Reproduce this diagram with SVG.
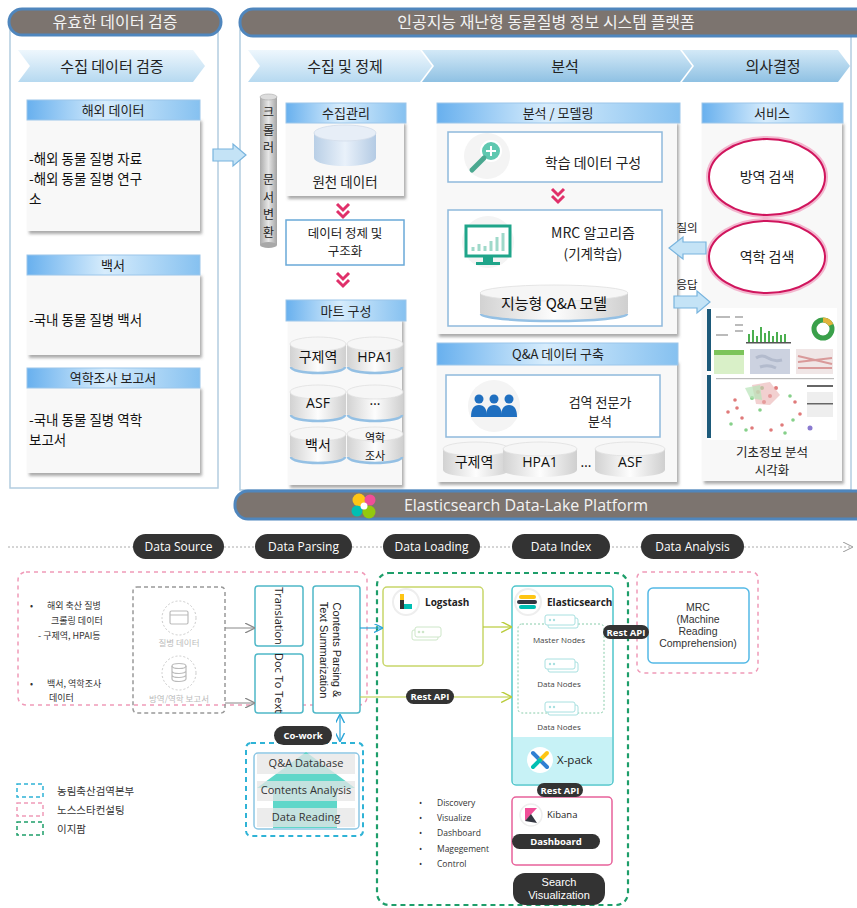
<svg xmlns="http://www.w3.org/2000/svg" width="857" height="908" viewBox="0 0 857 908">
<defs>
<style>
.kr{font-family:"Noto Sans CJK KR","Noto Sans",sans-serif;}
.en{font-family:"Open Sans","Noto Sans","Liberation Sans",sans-serif;}
.lib{font-family:"Liberation Sans",Arial,sans-serif;}
.pill{fill:#7c746f;stroke:#4f86bd;stroke-width:3;}
.pillt{fill:#f3f3f3;font-size:16px;text-anchor:middle;}
.panel{fill:#fff;stroke:#b3cde0;stroke-width:1.5;}
.chev{fill:url(#gChev);}
.chev2{fill:url(#gChev2);}
.chevt{fill:#222;font-size:15px;text-anchor:middle;}
.chd{fill:url(#gHdr);stroke:#9cc6ea;stroke-width:1;}
.chdt{fill:#222;font-size:13px;text-anchor:middle;}
.cbody{fill:#f8f8f8;filter:url(#sh);}
.ctxt{fill:#111;font-size:13.5px;}
.inbox{fill:#fff;stroke:#8fb9dc;stroke-width:1.5;}
.dchev{fill:none;stroke:#e0306a;stroke-width:3;}
.cylb{fill:url(#gCyl);}
.cylt{fill:#f6f6f6;stroke:#e0e0e0;stroke-width:0.8;}
.cylr{fill:none;stroke:#94c0e4;stroke-width:2.5;}
.cyll{fill:#111;font-size:14px;text-anchor:middle;}
.cyls{fill:#111;font-size:11px;text-anchor:middle;}
.bluearr{fill:#c4e3f6;stroke:#78b4de;stroke-width:1.2;}
.ell{fill:#fff;stroke:#d0155d;stroke-width:2;}
.ellg{fill:none;stroke:#f3b7cf;stroke-width:6;}
.stage{fill:#333;}
.staget{fill:#fff;font-size:12px;text-anchor:middle;}
.dpink{fill:none;stroke:#f09ab8;stroke-width:1.5;stroke-dasharray:4 4;}
.dblue{fill:none;stroke:#2fb3d6;stroke-width:2;stroke-dasharray:5 4;}
.dgreen{fill:none;stroke:#1e9e6a;stroke-width:2.2;stroke-dasharray:5 4;}
.tbox{fill:#fff;stroke:#4fb8c8;stroke-width:1.5;}
.tag{fill:#333;}
.tagt{fill:#fff;font-size:9.5px;font-weight:bold;text-anchor:middle;}
.small{fill:#333;font-size:9px;}
.tiny{fill:#444;font-size:8px;text-anchor:middle;}
.srct{fill:#bbb;font-size:8.5px;text-anchor:middle;}
</style>
<filter id="sh" x="-10%" y="-10%" width="125%" height="125%">
<feDropShadow dx="2" dy="3" stdDeviation="1.6" flood-color="#666" flood-opacity="0.55"/>
</filter>
<linearGradient id="gHdr" x1="0" y1="0" x2="1" y2="0">
<stop offset="0" stop-color="#68b0ee"/><stop offset="0.45" stop-color="#d6ecfc"/><stop offset="1" stop-color="#86c1f0"/>
</linearGradient>
<linearGradient id="gChev" x1="0" y1="0" x2="0" y2="1">
<stop offset="0" stop-color="#eef7fd"/><stop offset="1" stop-color="#b6d9f0"/>
</linearGradient>
<linearGradient id="gChev2" x1="0" y1="0" x2="0" y2="1">
<stop offset="0" stop-color="#d3e9f7"/><stop offset="1" stop-color="#8fc1e3"/>
</linearGradient>
<linearGradient id="gCyl" x1="0" y1="0" x2="1" y2="0">
<stop offset="0" stop-color="#d2d2d2"/><stop offset="0.5" stop-color="#fdfdfd"/><stop offset="1" stop-color="#cfcfcf"/>
</linearGradient>
<linearGradient id="gCylBlue" x1="0" y1="0" x2="1" y2="0">
<stop offset="0" stop-color="#b9cfe6"/><stop offset="0.5" stop-color="#e9f1fa"/><stop offset="1" stop-color="#b4cbe4"/>
</linearGradient>
<linearGradient id="gVcyl" x1="0" y1="0" x2="1" y2="0">
<stop offset="0" stop-color="#aaa"/><stop offset="0.5" stop-color="#e6e6e6"/><stop offset="1" stop-color="#a4a4a4"/>
</linearGradient>
<marker id="aGrey" viewBox="0 0 10 10" refX="9" refY="5" markerWidth="10" markerHeight="10" markerUnits="userSpaceOnUse" orient="auto">
<path d="M0,0 L10,5 L0,10" fill="none" stroke="#888" stroke-width="1.3"/>
</marker>
<marker id="aYel" viewBox="0 0 10 10" refX="9" refY="5" markerWidth="11" markerHeight="11" markerUnits="userSpaceOnUse" orient="auto">
<path d="M0,0 L10,5 L0,10" fill="none" stroke="#b9cc3a" stroke-width="1.3"/>
</marker>
<marker id="aBlue" viewBox="0 0 10 10" refX="9" refY="5" markerWidth="9" markerHeight="9" markerUnits="userSpaceOnUse" orient="auto-start-reverse">
<path d="M0,0 L10,5 L0,10" fill="none" stroke="#2aa5d8" stroke-width="1.5"/>
</marker>
<marker id="aLine" viewBox="0 0 10 10" refX="9" refY="5" markerWidth="10" markerHeight="10" markerUnits="userSpaceOnUse" orient="auto">
<path d="M0,0 L10,5 L0,10" fill="none" stroke="#999" stroke-width="1"/>
</marker>
<g id="cyl-small">
<path class="cylb" d="M0,8 L0,30 A28,7 0 0 0 56,30 L56,8 Z"/>
<path class="cylr" d="M1,31 A27,6 0 0 0 55,31"/>
<ellipse class="cylt" cx="28" cy="8" rx="28" ry="7"/>
</g>
<g id="srv">
<rect x="-13" y="-6" width="26" height="10" rx="2" fill="#fff" stroke="#cde6c8" stroke-width="1"/>
<rect x="-10" y="-9" width="26" height="10" rx="2" fill="#fff" stroke="#cde6c8" stroke-width="1"/>
<circle cx="-6" cy="-4" r="1.3" fill="#cde6c8"/><circle cx="-2" cy="-4" r="1.3" fill="#cde6c8"/>
</g>
<g id="node">
<rect x="-14" y="-4" width="30" height="10" rx="2" fill="#fff" stroke="#a8e0e0" stroke-width="1"/>
<rect x="-17" y="-7" width="30" height="10" rx="2" fill="#fff" stroke="#a8e0e0" stroke-width="1"/>
<circle cx="-12" cy="-2" r="1.2" fill="#a8e0e0"/><circle cx="-8" cy="-2" r="1.2" fill="#a8e0e0"/>
</g>
</defs>

<rect width="857" height="908" fill="#fff"/>

<!-- ===== Left: data validation ===== -->
<g id="validation">
<rect class="panel" x="10" y="30" width="208" height="458"/>
<rect class="pill" x="9" y="9" width="212" height="26" rx="13"/>
<text class="kr pillt" x="115" y="28">유효한 데이터 검증</text>
<polygon class="chev" points="18,50 193,50 205,66 193,82 18,82 30,66"/>
<text class="kr chevt" x="112" y="72">수집 데이터 검증</text>
</g>

<g id="card-overseas">
<rect class="cbody" x="27" y="118" width="173" height="113"/>
<rect class="chd" x="27" y="100" width="173" height="20"/>
<text class="kr chdt" x="113" y="115">해외 데이터</text>
<text class="kr ctxt" x="29" y="164">-해외 동물 질병 자료</text>
<text class="kr ctxt" x="29" y="184">-해외 동물 질병 연구</text>
<text class="kr ctxt" x="29" y="204">소</text>
</g>

<g id="card-whitepaper">
<rect class="cbody" x="27" y="273" width="173" height="82"/>
<rect class="chd" x="27" y="255" width="173" height="20"/>
<text class="kr chdt" x="113" y="270">백서</text>
<text class="kr ctxt" x="29" y="325">-국내 동물 질병 백서</text>
</g>

<g id="card-epi">
<rect class="cbody" x="27" y="386" width="173" height="87"/>
<rect class="chd" x="27" y="368" width="173" height="20"/>
<text class="kr chdt" x="113" y="383">역학조사 보고서</text>
<text class="kr ctxt" x="29" y="425">-국내 동물 질병 역학</text>
<text class="kr ctxt" x="29" y="445">보고서</text>
</g>

<!-- ===== Right: AI platform ===== -->
<g id="platform">
<rect class="panel" x="240" y="30" width="611" height="460"/>
<rect class="pill" x="240" y="9" width="630" height="27" rx="13"/>
<text class="kr pillt" x="546" y="28">인공지능 재난형 동물질병 정보 시스템 플랫폼</text>
<polygon class="chev" points="248,50 420,50 432,66 420,82 248,82 260,66"/>
<text class="kr chevt" x="345" y="72">수집 및 정제</text>
<polygon class="chev2" points="422,50 680,50 692,66 680,82 422,82 434,66"/>
<text class="kr chevt" x="565" y="72">분석</text>
<polygon class="chev2" points="682,50 838,50 850,66 838,82 682,82 694,66"/>
<text class="kr chevt" x="773" y="72">의사결정</text>
</g>

<g id="crawler">
<rect x="260" y="97" width="17" height="148" fill="url(#gVcyl)"/>
<ellipse cx="268.5" cy="97" rx="8.5" ry="3" fill="#ddd" stroke="#aaa" stroke-width="0.6"/>
<ellipse cx="268.5" cy="245" rx="8.5" ry="3" fill="#a8a8a8"/>
<g class="kr" font-size="12" fill="#222" text-anchor="middle">
<text x="268.5" y="117">크</text><text x="268.5" y="134.5">롤</text><text x="268.5" y="152">러</text>
<text x="268.5" y="184">문</text><text x="268.5" y="201.5">서</text><text x="268.5" y="219">변</text><text x="268.5" y="236.5">환</text>
</g>
</g>

<g id="collect-mgmt">
<rect class="cbody" x="286" y="121" width="118" height="75"/>
<rect class="chd" x="286" y="103" width="120" height="20"/>
<text class="kr chdt" x="346" y="118">수집관리</text>
<path d="M314,133 L314,158 A31,8 0 0 0 376,158 L376,133 Z" fill="url(#gCylBlue)"/>
<ellipse cx="345" cy="133" rx="31" ry="8" fill="#e7eef7" stroke="#d2dcea" stroke-width="0.8"/>
<text class="kr" x="345" y="187" font-size="13.5" fill="#222" text-anchor="middle">원천 데이터</text>
</g>

<path class="dchev" d="M337,204 L343,210 L349,204 M337,211 L343,217 L349,211"/>

<g id="refine">
<rect x="286" y="220" width="118" height="45" fill="#fff" stroke="#6aa9d8" stroke-width="1.5"/>
<text class="kr" x="345" y="238" font-size="12.5" fill="#222" text-anchor="middle">데이터 정제 및</text>
<text class="kr" x="345" y="256" font-size="12.5" fill="#222" text-anchor="middle">구조화</text>
</g>

<path class="dchev" d="M337,273 L343,279 L349,273 M337,280 L343,286 L349,280"/>

<g id="mart">
<rect class="cbody" x="288" y="318" width="114" height="167"/>
<rect class="chd" x="286" y="300" width="120" height="21"/>
<text class="kr chdt" x="346" y="316">마트 구성</text>
<use href="#cyl-small" x="290" y="336"/><use href="#cyl-small" x="347" y="336"/>
<use href="#cyl-small" x="290" y="384"/><use href="#cyl-small" x="347" y="384"/>
<use href="#cyl-small" x="290" y="426"/><use href="#cyl-small" x="347" y="426"/>
<text class="kr cyll" x="318" y="362">구제역</text>
<text class="en cyll" x="375" y="362">HPA1</text>
<text class="en cyll" x="318" y="408">ASF</text>
<text class="en cyll" x="375" y="405">…</text>
<text class="kr cyll" x="318" y="450">백서</text>
<text class="kr cyls" x="375" y="442">역학</text>
<text class="kr cyls" x="375" y="460">조사</text>
</g>

<g id="modeling">
<rect class="cbody" x="437" y="121" width="240" height="213"/>
<rect class="chd" x="437" y="103" width="243" height="20"/>
<text class="kr chdt" x="558" y="118">분석 / 모델링</text>
<rect class="inbox" x="448" y="132" width="214" height="50"/>
<circle cx="487" cy="156" r="23" fill="#f4f4f4"/>
<circle cx="491" cy="151" r="10" fill="#5fc8b0" stroke="#fff" stroke-width="2"/>
<path d="M486,151 h10 M491,146 v10" stroke="#fff" stroke-width="2"/>
<path d="M484,158 L472,170" stroke="#4aa890" stroke-width="5" stroke-linecap="round"/>
<text class="kr" x="593" y="168" font-size="14" fill="#222" text-anchor="middle">학습 데이터 구성</text>
<path class="dchev" d="M552,189 L558,195 L564,189 M552,196 L558,202 L564,196"/>
<rect class="inbox" x="448" y="210" width="214" height="116"/>
<circle cx="488" cy="242" r="26" fill="#f4f4f4"/>
<rect x="466" y="226" width="44" height="30" fill="#fff" stroke="#1fa58a" stroke-width="3"/>
<path d="M473,251 v-4 M479,251 v-7 M485,251 v-5 M491,251 v-10 M497,251 v-14 M503,251 v-18" stroke="#9fd9ca" stroke-width="3"/>
<rect x="483" y="256" width="10" height="6" fill="#1fa58a"/>
<rect x="476" y="262" width="24" height="3" fill="#1fa58a"/>
<text class="kr" x="593" y="238" font-size="14" fill="#222" text-anchor="middle">MRC 알고리즘</text>
<text class="kr" x="593" y="259" font-size="13.5" fill="#222" text-anchor="middle">(기계학습)</text>
<path d="M480,293 L480,313 A74,8 0 0 0 628,313 L628,293 Z" fill="url(#gCyl)"/>
<path class="cylr" d="M481,314 A73,7 0 0 0 627,314"/>
<ellipse class="cylt" cx="554" cy="293" rx="74" ry="8"/>
<text class="kr" x="554" y="309" font-size="15" fill="#111" text-anchor="middle">지능형 Q&amp;A 모델</text>
</g>

<g id="qa-build">
<rect class="cbody" x="437" y="360" width="240" height="122"/>
<rect x="437" y="343" width="241" height="22" fill="url(#gHdr)" stroke="#9cc6ea"/>
<text class="kr chdt" x="558" y="359">Q&amp;A 데이터 구축</text>
<rect class="inbox" x="446" y="375" width="214" height="62"/>
<circle cx="494" cy="406" r="26" fill="#f4f4f4"/>
<g fill="#1f6fc0">
<circle cx="479" cy="399" r="4.5"/><circle cx="494" cy="399" r="4.5"/><circle cx="509" cy="399" r="4.5"/>
<path d="M471,417 Q471,405 479,405 Q487,405 487,417 Z"/>
<path d="M486,417 Q486,405 494,405 Q502,405 502,417 Z"/>
<path d="M501,417 Q501,405 509,405 Q517,405 517,417 Z"/>
</g>
<text class="kr" x="600" y="407" font-size="13" fill="#222" text-anchor="middle">검역 전문가</text>
<text class="kr" x="600" y="426" font-size="13" fill="#222" text-anchor="middle">분석</text>
<path d="M443,449 L443,470 A33,7 0 0 0 509,470 L509,449 Z" fill="url(#gCyl)"/>
<ellipse class="cylt" cx="476" cy="449" rx="33" ry="7"/>
<path d="M503,449 L503,470 A37,7 0 0 0 577,470 L577,449 Z" fill="url(#gCyl)"/>
<ellipse class="cylt" cx="540" cy="449" rx="37" ry="7"/>
<path d="M595,449 L595,470 A35,7 0 0 0 665,470 L665,449 Z" fill="url(#gCyl)"/>
<ellipse class="cylt" cx="630" cy="449" rx="35" ry="7"/>
<text class="kr cyll" x="474" y="467">구제역</text>
<text class="en cyll" x="540" y="467">HPA1</text>
<text class="en cyll" x="586" y="467">…</text>
<text class="en cyll" x="630" y="467">ASF</text>
</g>

<g id="service">
<rect class="cbody" x="702" y="121" width="140" height="360"/>
<rect class="chd" x="702" y="103" width="141" height="20"/>
<text class="kr chdt" x="772" y="118">서비스</text>
<ellipse class="ellg" cx="767" cy="177" rx="58" ry="38"/>
<ellipse class="ell" cx="767" cy="177" rx="58" ry="38"/>
<text class="kr" x="767" y="182" font-size="14" fill="#222" text-anchor="middle">방역 검색</text>
<ellipse class="ellg" cx="767" cy="257" rx="58" ry="36"/>
<ellipse class="ell" cx="767" cy="257" rx="58" ry="36"/>
<text class="kr" x="767" y="262" font-size="14" fill="#222" text-anchor="middle">역학 검색</text>
<!-- dashboard thumbnail -->
<rect x="707" y="308" width="130" height="132" fill="#fff"/>
<rect x="707" y="309" width="4" height="62" fill="#1d5a7a"/>
<rect x="707" y="375" width="4" height="63" fill="#1d5a7a"/>
<g fill="#bbb"><rect x="716" y="316" width="14" height="2"/><rect x="735" y="316" width="8" height="2"/><rect x="716" y="334" width="12" height="2"/><rect x="735" y="324" width="8" height="2"/><rect x="735" y="330" width="8" height="2"/></g>
<g fill="#4caf50"><rect x="748" y="334" width="2" height="8"/><rect x="752" y="330" width="2" height="12"/><rect x="756" y="336" width="2" height="6"/><rect x="760" y="327" width="2" height="15"/><rect x="764" y="333" width="2" height="9"/><rect x="768" y="331" width="2" height="11"/><rect x="772" y="336" width="2" height="6"/><rect x="776" y="332" width="2" height="10"/><rect x="780" y="335" width="2" height="7"/><rect x="784" y="334" width="2" height="8"/></g>
<rect x="746" y="342" width="45" height="1.5" fill="#555"/>
<circle cx="823" cy="329" r="9" fill="none" stroke="#3aa04a" stroke-width="5"/>
<path d="M823,320 A9,9 0 0 1 831,325" fill="none" stroke="#e2b33a" stroke-width="5"/>
<rect x="714" y="350" width="30" height="24" fill="#d9f0c8"/>
<rect x="714" y="350" width="30" height="5" fill="#7cc45a"/>
<rect x="750" y="349" width="40" height="25" fill="#ccd2e0"/>
<path d="M756,358 q6,-4 12,0 t14,2 M760,367 q8,-3 16,1" stroke="#b3bbcd" stroke-width="3" fill="none"/>
<rect x="796" y="349" width="37" height="25" fill="#f0e6e6"/>
<path d="M798,356 L832,364 M798,362 L832,358 M798,368 L832,368" stroke="#d99a9a" stroke-width="2"/>
<rect x="716" y="378" width="118" height="1.2" fill="#bbb"/>
<g fill="#e07a7a"><circle cx="758" cy="392" r="2"/><circle cx="770" cy="396" r="2"/><circle cx="776" cy="388" r="2"/><circle cx="764" cy="402" r="2"/><circle cx="735" cy="400" r="1.8"/><circle cx="728" cy="412" r="1.8"/><circle cx="742" cy="418" r="1.8"/><circle cx="795" cy="402" r="1.8"/><circle cx="800" cy="414" r="1.8"/><circle cx="752" cy="428" r="1.8"/><circle cx="782" cy="425" r="1.8"/><circle cx="737" cy="408" r="1.8"/><circle cx="771" cy="430" r="1.8"/></g>
<g fill="#86d08a"><circle cx="762" cy="388" r="2"/><circle cx="752" cy="398" r="2"/><circle cx="760" cy="410" r="1.8"/><circle cx="790" cy="396" r="1.8"/><circle cx="746" cy="430" r="1.8"/><circle cx="793" cy="420" r="1.8"/><circle cx="731" cy="424" r="1.8"/><circle cx="785" cy="433" r="1.8"/></g>
<path d="M752,385 L770,382 L780,395 L770,405 L756,404 Z" fill="#e9b0b0" opacity="0.6"/>
<path d="M745,388 L760,385 L762,400 L750,398 Z" fill="#b8e4b8" opacity="0.7"/>
<circle cx="810" cy="428" r="2.5" fill="#8a7ad0"/>
<rect x="807" y="385" width="26" height="2" fill="#666"/>
<rect x="807" y="392" width="26" height="25" fill="#eee"/>
<rect x="807" y="403" width="26" height="1.5" fill="#666"/>
<text class="kr" x="772" y="457" font-size="12.5" fill="#222" text-anchor="middle">기초정보 분석</text>
<text class="kr" x="772" y="475" font-size="12.5" fill="#222" text-anchor="middle">시각화</text>
</g>

<g id="top-connectors">
<polygon class="bluearr" points="213,149 233,149 233,144 246,155 233,166 233,161 213,161"/>
<text class="kr" x="687" y="232" font-size="11.5" fill="#222" text-anchor="middle">질의</text>
<polygon class="bluearr" points="706,242 683,242 683,237 669,248 683,259 683,254 706,254"/>
<text class="kr" x="687" y="289" font-size="11.5" fill="#222" text-anchor="middle">응답</text>
<polygon class="bluearr" points="674,296 697,296 697,291 710,302 697,313 697,308 674,308"/>
</g>

<!-- ===== Elasticsearch data-lake platform ===== -->
<g id="datalake-header">
<rect class="pill" x="235" y="491" width="640" height="28" rx="13"/>
<circle cx="359" cy="500" r="6.5" fill="#fec514"/>
<circle cx="370" cy="500" r="5.5" fill="#f04e98"/>
<circle cx="357" cy="511" r="5.5" fill="#00bfb3"/>
<circle cx="369" cy="512" r="6.5" fill="#93c90e"/>
<circle cx="364" cy="506" r="3.5" fill="#fff"/>
<text class="en pillt" x="526" y="511">Elasticsearch Data-Lake Platform</text>
</g>

<g id="timeline">
<line x1="8" y1="547" x2="852" y2="547" stroke="#aaa" stroke-width="1" stroke-dasharray="2 2" marker-end="url(#aLine)"/>
<rect class="stage" x="133" y="534" width="91" height="25" rx="12.5"/>
<text class="en staget" x="178.5" y="551">Data Source</text>
<rect class="stage" x="255" y="534" width="97" height="25" rx="12.5"/>
<text class="en staget" x="303.5" y="551">Data Parsing</text>
<rect class="stage" x="383" y="534" width="97" height="25" rx="12.5"/>
<text class="en staget" x="431.5" y="551">Data Loading</text>
<rect class="stage" x="512" y="534" width="98" height="25" rx="12.5"/>
<text class="en staget" x="561" y="551">Data Index</text>
<rect class="stage" x="641" y="534" width="103" height="25" rx="12.5"/>
<text class="en staget" x="692.5" y="551">Data Analysis</text>
</g>

<g id="zone-boundaries">
<rect class="dpink" x="18" y="572" width="349" height="133" rx="8"/>
<rect class="dblue" x="246" y="743" width="117" height="93" rx="5"/>
<rect class="dgreen" x="377" y="573" width="251" height="332" rx="12"/>
<rect class="dpink" x="637" y="572" width="121" height="101" rx="6"/>
</g>

<g id="source-text">
<text class="kr small" x="30" y="609">•</text>
<text class="kr small" x="47" y="609">해외 축산 질병</text>
<text class="kr small" x="51" y="624">크롤링 데이터</text>
<text class="kr small" x="38" y="639">- 구제역, HPAI등</text>
<text class="kr small" x="30" y="687">•</text>
<text class="kr small" x="47" y="687">백서, 역학조사</text>
<text class="kr small" x="49" y="701">데이터</text>
</g>

<g id="source-group">
<rect x="133" y="587" width="92" height="126" rx="4" fill="none" stroke="#999" stroke-width="1.5" stroke-dasharray="4 3"/>
<circle cx="179" cy="618" r="17" fill="none" stroke="#ccc" stroke-dasharray="2 2"/>
<rect x="170" y="611" width="18" height="13" rx="1.5" fill="none" stroke="#bbb" stroke-width="1.2"/>
<line x1="170" y1="615" x2="188" y2="615" stroke="#bbb"/>
<text class="kr srct" x="179" y="646">질병 데이터</text>
<circle cx="179" cy="673" r="17" fill="none" stroke="#ccc" stroke-dasharray="2 2"/>
<ellipse cx="179" cy="666" rx="7" ry="2.5" fill="none" stroke="#bbb" stroke-width="1.2"/>
<path d="M172,666 v13 a7,2.5 0 0 0 14,0 v-13 M172,671 a7,2.5 0 0 0 14,0 M172,675 a7,2.5 0 0 0 14,0" fill="none" stroke="#bbb" stroke-width="1.2"/>
<text class="kr srct" x="179" y="702">방역/역학 보고서</text>
</g>

<g id="parsing">
<rect class="tbox" x="255" y="586" width="48" height="60" rx="3"/>
<text class="en" transform="translate(275,616) rotate(90)" font-size="11" fill="#222" text-anchor="middle">Translation</text>
<rect class="tbox" x="255" y="654" width="48" height="59" rx="3"/>
<text class="en" transform="translate(275,683) rotate(90)" font-size="11" fill="#222" text-anchor="middle">Doc To Text</text>
<rect class="tbox" x="313" y="586" width="47" height="127" rx="3"/>
<text class="lib" transform="translate(333,650) rotate(90)" font-size="11" fill="#222" text-anchor="middle">Contents Parsing &amp;</text>
<text class="lib" transform="translate(320,650) rotate(90)" font-size="11" fill="#222" text-anchor="middle">Text Summarization</text>
</g>

<g id="qa-db">
<rect x="254" y="753" width="105" height="76" rx="4" fill="#fff" stroke="#8cc6e4" stroke-width="1.5"/>
<polygon points="306,752 355,788 337,788 337,828 273,828 273,788 257,788" fill="#5fd7c9"/>
<rect x="257" y="754" width="98" height="20" fill="#e6e6e6" opacity="0.75"/>
<rect x="257" y="781" width="98" height="20" fill="#e6e6e6" opacity="0.75"/>
<rect x="257" y="808" width="98" height="19" fill="#e6e6e6" opacity="0.75"/>
<text class="en" x="306" y="767" font-size="11" fill="#333" text-anchor="middle">Q&amp;A Database</text>
<text class="en" x="306" y="794" font-size="11" fill="#333" text-anchor="middle">Contents Analysis</text>
<text class="en" x="306" y="821" font-size="11" fill="#333" text-anchor="middle">Data Reading</text>
</g>

<g id="legend">
<rect x="17" y="784" width="26" height="13" fill="none" stroke="#2fb3d6" stroke-width="1.5" stroke-dasharray="4 3"/>
<text class="kr" x="57" y="795" font-size="10.5" fill="#333">농림축산검역본부</text>
<rect x="17" y="803" width="26" height="13" fill="none" stroke="#f09ab8" stroke-width="1.5" stroke-dasharray="4 3"/>
<text class="kr" x="57" y="814" font-size="10.5" fill="#333">노스스타컨설팅</text>
<rect x="17" y="822" width="26" height="13" fill="none" stroke="#1e9e6a" stroke-width="1.5" stroke-dasharray="4 3"/>
<text class="kr" x="57" y="833" font-size="10.5" fill="#333">이지팜</text>
</g>

<g id="logstash">
<rect x="383" y="587" width="100" height="79" rx="4" fill="#fff" stroke="#c8d66a" stroke-width="1.5"/>
<circle cx="406" cy="602" r="13" fill="#fff" stroke="#eee" stroke-width="2"/>
<path d="M400,596 L404,596 L404,604 L410,604 L410,609 L400,609 Z" fill="#333"/>
<path d="M400,594 L404,594 L404,600 L400,600 Z" fill="#fec514"/>
<rect x="404" y="604" width="8" height="5" fill="#00bfb3"/>
<text class="en" x="425" y="606" font-size="10" font-weight="bold" fill="#222">Logstash</text>
<use href="#srv" x="425" y="636"/>
</g>

<g id="elasticsearch">
<rect x="512" y="586" width="101" height="199" rx="4" fill="#fff" stroke="#4fc6cc" stroke-width="1.5"/>
<path d="M513,737 H612 V781 Q612,784 609,784 H516 Q513,784 513,781 Z" fill="#c7f2f6"/>
<circle cx="528" cy="602" r="13" fill="#fff" stroke="#eee" stroke-width="2"/>
<rect x="519" y="595" width="17" height="4" rx="2" fill="#fec514"/>
<rect x="517" y="600" width="20" height="4" rx="2" fill="#343741"/>
<rect x="519" y="605" width="17" height="4" rx="2" fill="#00bfb3"/>
<text class="en" x="547" y="606" font-size="10" font-weight="bold" fill="#222">Elasticsearch</text>
<rect x="518" y="624" width="86" height="89" rx="4" fill="none" stroke="#8ca" stroke-width="1" stroke-dasharray="2 2"/>
<use href="#node" x="562" y="622"/>
<text class="en tiny" x="559" y="643">Master Nodes</text>
<use href="#node" x="562" y="666"/>
<text class="en tiny" x="559" y="687">Data Nodes</text>
<use href="#node" x="562" y="709"/>
<text class="en tiny" x="559" y="730">Data Nodes</text>
<circle cx="540" cy="760" r="13" fill="#fff"/>
<path d="M533,753 L547,767" stroke="#2f7fd3" stroke-width="4" stroke-linecap="round"/>
<path d="M547,753 L540,760" stroke="#fec514" stroke-width="4" stroke-linecap="round"/>
<path d="M533,767 L540,760" stroke="#00bfb3" stroke-width="4" stroke-linecap="round"/>
<text class="en" x="557" y="764" font-size="11.5" fill="#222">X-pack</text>
</g>

<g id="kibana">
<rect x="512" y="797" width="100" height="68" rx="4" fill="#fff" stroke="#e8619a" stroke-width="1.5"/>
<circle cx="531" cy="815" r="11" fill="#fff" stroke="#eee" stroke-width="1.5"/>
<path d="M525,808 L537,808 L525,821 Z" fill="#f04e98"/>
<path d="M525,821 L531,814 L537,823 Z" fill="#343741"/>
<text class="en" x="547" y="818" font-size="9.5" fill="#222">Kibana</text>
<rect class="tag" x="512" y="834" width="88" height="15" rx="7.5"/>
<text class="en tagt" x="556" y="845">Dashboard</text>
</g>

<g id="kibana-features">
<g class="en" font-size="8.5" fill="#333">
<text x="419" y="806">•</text><text x="437" y="806">Discovery</text>
<text x="419" y="821">•</text><text x="437" y="821">Visualize</text>
<text x="419" y="836">•</text><text x="437" y="836">Dashboard</text>
<text x="419" y="852">•</text><text x="437" y="852">Magegement</text>
<text x="419" y="867">•</text><text x="437" y="867">Control</text>
</g>
<rect class="tag" x="513" y="873" width="92" height="32" rx="12"/>
<text class="lib" x="559" y="886" font-size="11" fill="#fff" text-anchor="middle">Search</text>
<text class="lib" x="559" y="899" font-size="11" fill="#fff" text-anchor="middle">Visualization</text>
</g>

<g id="mrc">
<rect x="648" y="588" width="101" height="75" rx="5" fill="#fff" stroke="#54b9e6" stroke-width="1.5"/>
<g class="lib" font-size="10.5" fill="#333" text-anchor="middle">
<text x="698" y="611">MRC</text>
<text x="698" y="623">(Machine</text>
<text x="698" y="635">Reading</text>
<text x="698" y="647">Comprehension)</text>
</g>
</g>

<!-- pipeline connectors -->
<g id="connectors">
<line x1="225" y1="628" x2="254" y2="628" stroke="#888" stroke-width="1" marker-end="url(#aGrey)"/>
<line x1="225" y1="703" x2="254" y2="703" stroke="#888" stroke-width="1" marker-end="url(#aGrey)"/>
<line x1="360" y1="628" x2="382" y2="628" stroke="#2aa5d8" stroke-width="1.2" marker-end="url(#aBlue)"/>
<line x1="483" y1="627" x2="511" y2="627" stroke="#b9cc3a" stroke-width="1.2" marker-end="url(#aYel)"/>
<line x1="360" y1="697" x2="511" y2="697" stroke="#b9cc3a" stroke-width="1.2" marker-end="url(#aYel)"/>
<rect class="tag" x="406" y="689" width="48" height="15" rx="7.5"/>
<text class="en tagt" x="430" y="700">Rest API</text>
<line x1="340" y1="715" x2="340" y2="741" stroke="#2aa5d8" stroke-width="1.2" marker-start="url(#aBlue)" marker-end="url(#aBlue)"/>
<rect class="tag" x="274" y="726" width="58" height="19" rx="9.5"/>
<text class="en tagt" x="303" y="739">Co-work</text>
<rect class="tag" x="603" y="625" width="46" height="14" rx="7"/>
<text class="en tagt" x="626" y="635.5">Rest API</text>
<rect class="tag" x="537" y="783" width="46" height="14" rx="7"/>
<text class="en tagt" x="560" y="793.5">Rest API</text>
</g>
</svg>
